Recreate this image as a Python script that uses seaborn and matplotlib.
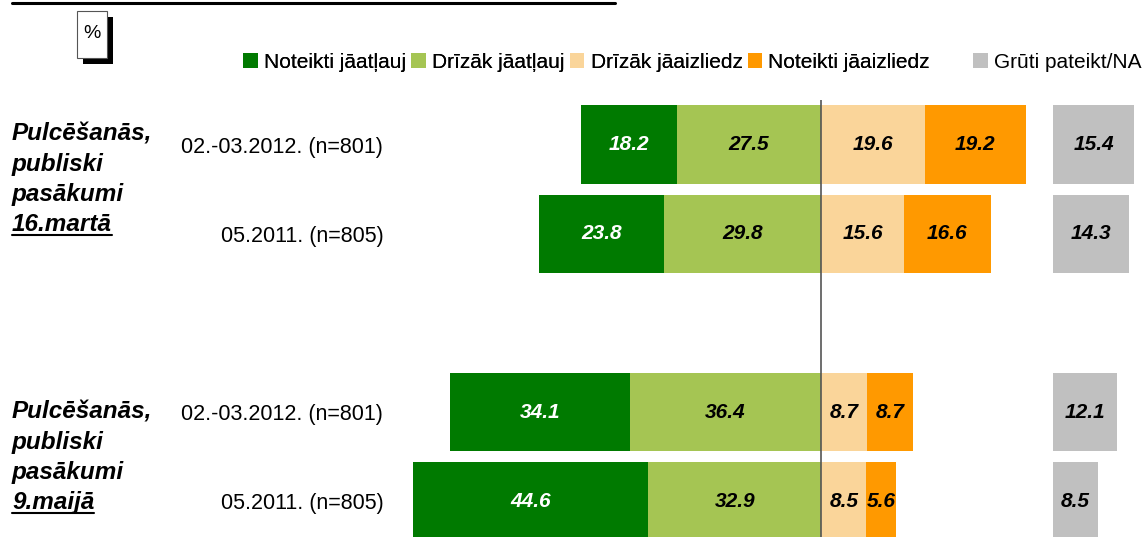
import numpy as np
import pandas as pd
import seaborn as sns
import matplotlib.pyplot as plt
from matplotlib.patches import Patch, Rectangle
from matplotlib.lines import Line2D

# data (percent)
row_pos = [0, 1, 3, 4]
row_labels = ["02.-03.2012. (n=801)", "05.2011. (n=805)",
              "02.-03.2012. (n=801)", "05.2011. (n=805)"]
strong_allow = [18.2, 23.8, 34.1, 44.6]
rather_allow = [27.5, 29.8, 36.4, 32.9]
rather_forbid = [19.6, 15.6, 8.7, 8.5]
strong_forbid = [19.2, 16.6, 8.7, 5.6]
hard_to_say = [15.4, 14.3, 12.1, 8.5]
group_lines = [["Pulcēšanās,", "publiski", "pasākumi", "16.martā"],
               ["Pulcēšanās,", "publiski", "pasākumi", "9.maijā"]]
legend_labels = ["Noteikti jāatļauj", "Drīzāk jāatļauj", "Drīzāk jāaizliedz",
                 "Noteikti jāaizliedz", "Grūti pateikt/NA"]

colors = ["#007A00", "#A5C553", "#FAD59A", "#FF9900", "#C0C0C0"]
GRAY_START = 44.0

W, H = 1145, 537
sns.set_style("white")
plt.rcParams["font.family"] = ["Liberation Sans", "DejaVu Sans"]
plt.rcParams["text.color"] = "black"
plt.rcParams["ytick.color"] = "black"

df = pd.DataFrame({
    "pos": row_pos,
    "sa": strong_allow, "ra": rather_allow,
    "rf": rather_forbid, "sf": strong_forbid, "na": hard_to_say,
})
df["left_total"] = -(df["sa"] + df["ra"])
df["left_inner"] = -df["ra"]
df["right_total"] = df["rf"] + df["sf"]

fig = plt.figure(figsize=(W / 100, H / 100), dpi=100)
ax = fig.add_axes([400 / W, 0, 745 / W, 437 / H])

bar_kw = dict(y="pos", orient="h", native_scale=True, width=0.88,
              errorbar=None, linewidth=0, saturation=1, ax=ax)
sns.barplot(data=df, x="left_total", color=colors[0], **bar_kw)
sns.barplot(data=df, x="left_inner", color=colors[1], **bar_kw)
sns.barplot(data=df, x="right_total", color=colors[3], **bar_kw)
sns.barplot(data=df, x="rf", color=colors[2], **bar_kw)
n_before = len(ax.patches)
sns.barplot(data=df, x="na", color=colors[4], **bar_kw)
# shift the "hard to say" bars to their own column
for p in ax.patches[n_before:]:
    p.set_x(GRAY_START)

# value labels
lab_kw = dict(ha="center", va="center", fontsize=15, fontweight="bold", style="italic")
for _, r in df.iterrows():
    y = r["pos"]
    ax.text(-(r["ra"] + r["sa"] / 2), y, f"{r['sa']:.1f}", color="white", **lab_kw)
    ax.text(-r["ra"] / 2, y, f"{r['ra']:.1f}", color="black", **lab_kw)
    ax.text(r["rf"] / 2, y, f"{r['rf']:.1f}", color="black", **lab_kw)
    ax.text(r["rf"] + r["sf"] / 2, y, f"{r['sf']:.1f}", color="black", **lab_kw)
    ax.text(GRAY_START + r["na"] / 2, y, f"{r['na']:.1f}", color="black", **lab_kw)

ax.axvline(0, color="#555555", lw=1.2, zorder=5)

ax.set_xlim(-80, 61.4)
ax.set_ylim(4.4, -0.5)
ax.set_xticks([])
ax.set_yticks(row_pos, row_labels)
ax.tick_params(axis="y", length=0, pad=12, labelsize=15.5, labelcolor="black")
ax.set_xlabel("")
ax.set_ylabel("")
sns.despine(ax=ax, left=True, bottom=True)

# group labels, last line underlined
baselines = [[141, 171, 201, 231], [419, 449, 479, 509]]
for lines, bases in zip(group_lines, baselines):
    for i, (txt, b) in enumerate(zip(lines, bases)):
        t = fig.text(12 / W, 1 - b / H, txt, ha="left", va="baseline",
                     fontsize=17.5, fontweight="bold", style="italic")
        if i == len(lines) - 1:
            fig.canvas.draw()
            bb = t.get_window_extent()
            uy = 1 - (b + 4) / H
            fig.add_artist(Line2D([bb.x0 / W, bb.x1 / W], [uy, uy],
                                  color="black", lw=1.5))

# legend
handles = [Patch(facecolor=c, edgecolor="none") for c in colors]
leg_kw = dict(frameon=False, fontsize=15, handlelength=0.7, handleheight=0.7,
              handletextpad=0.3, columnspacing=0.25, borderpad=0,
              borderaxespad=0, loc="center left")
leg1 = fig.legend(handles[:4], legend_labels[:4], ncol=4,
                  bbox_to_anchor=(243 / W, 1 - 62 / H), **leg_kw)
fig.add_artist(leg1)
fig.legend(handles[4:], legend_labels[4:], ncol=1,
           bbox_to_anchor=(973 / W, 1 - 62 / H), **leg_kw)

# "%" box with shadow
fig.add_artist(Rectangle((83 / W, 1 - 64 / H), 30 / W, 47 / H,
                         transform=fig.transFigure, facecolor="black", edgecolor="none"))
fig.add_artist(Rectangle((77 / W, 1 - 58 / H), 30 / W, 47 / H,
                         transform=fig.transFigure, facecolor="white",
                         edgecolor="#555555", lw=0.8))
fig.text(92 / W, 1 - 33 / H, "%", ha="center", va="center", fontsize=14)

# rule at the top (remains of a cropped heading)
fig.add_artist(Line2D([12 / W, 615 / W], [1 - 2.5 / H] * 2, color="black", lw=2.2))

fig.savefig("out.png", dpi=100)
